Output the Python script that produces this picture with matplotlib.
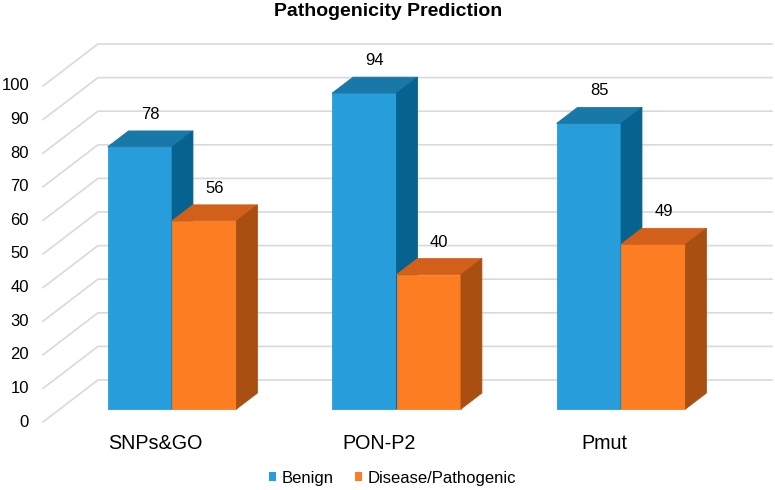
import matplotlib.pyplot as plt
from matplotlib.patches import Polygon, Patch

categories = ['SNPs&GO', 'PON-P2', 'Pmut']
benign = [78, 94, 85]
pathogenic = [56, 40, 49]
series_names = ['Benign', 'Disease/Pathogenic']
yticks = list(range(0, 101, 10))

plt.rcParams['font.family'] = ['Liberation Sans', 'DejaVu Sans']

# face colours: front, top, side
blue = ['#279DDB', '#1878A8', '#06638F']
orange = ['#FD7E22', '#D2601A', '#AA4F12']

# fake 3d: full depth shift and where the bars sit in depth
DX, DZ = 0.245, 12.5
D0, D1 = 0.31, 0.69
W = 0.287


def proj(x, v, d):
    return (x + d * DX, v + d * DZ)


def bar3d(ax, x0, h, cols):
    front = [proj(x0, 0, D0), proj(x0 + W, 0, D0), proj(x0 + W, h, D0), proj(x0, h, D0)]
    top = [proj(x0, h, D0), proj(x0 + W, h, D0), proj(x0 + W, h, D1), proj(x0, h, D1)]
    side = [proj(x0 + W, 0, D0), proj(x0 + W, 0, D1), proj(x0 + W, h, D1), proj(x0 + W, h, D0)]
    for pts, c in zip([front, top, side], cols):
        ax.add_patch(Polygon(pts, closed=True, facecolor=c, edgecolor=c, lw=0.6, zorder=3))


fig = plt.figure(figsize=(7.75, 4.9), dpi=100)
ax = fig.add_axes([0, 0, 1, 1])
ax.set_xlim(-0.6904, 2.7617)
ax.set_ylim(-20.238, 125.595)
ax.axis('off')

# gridlines: short diagonal on the left, then along the back wall
xl, xr = -0.499, 2.503
for t in yticks:
    p0, p1, p2 = proj(xl, t, 0), proj(xl, t, 1), proj(xr, t, 1)
    ax.plot([p0[0], p1[0], p2[0]], [p0[1], p1[1], p2[1]], color='#D9D9D9', lw=1.2, zorder=1)
    ax.text(-0.561, t, str(t), ha='right', va='center', fontsize=12)

for i, cat in enumerate(categories):
    for j, (vals, cols) in enumerate([(benign, blue), (pathogenic, orange)]):
        x0 = i - W + j * W
        h = vals[i]
        bar3d(ax, x0, h, cols)
        lx, ly = proj(x0 + W / 2, h, 0.5)
        ax.text(lx, ly + 7.3, str(h), ha='center', va='center', fontsize=12, zorder=4)
    ax.text(i, -6.25, cat, ha='center', va='center', fontsize=14.2)

fig.text(0.5006, 1 - 12 / 490, 'Pathogenicity Prediction', ha='center', va='center',
         fontsize=14, fontweight='bold')

handles = [Patch(facecolor=blue[0]), Patch(facecolor=orange[0])]
fig.legend(handles, series_names, loc='center', bbox_to_anchor=(0.5065, 1 - 478 / 490),
           ncol=2, frameon=False, fontsize=12, handlelength=0.4, handleheight=0.4,
           handletextpad=0.35, columnspacing=1.3)

fig.savefig('out.png', dpi=100)
